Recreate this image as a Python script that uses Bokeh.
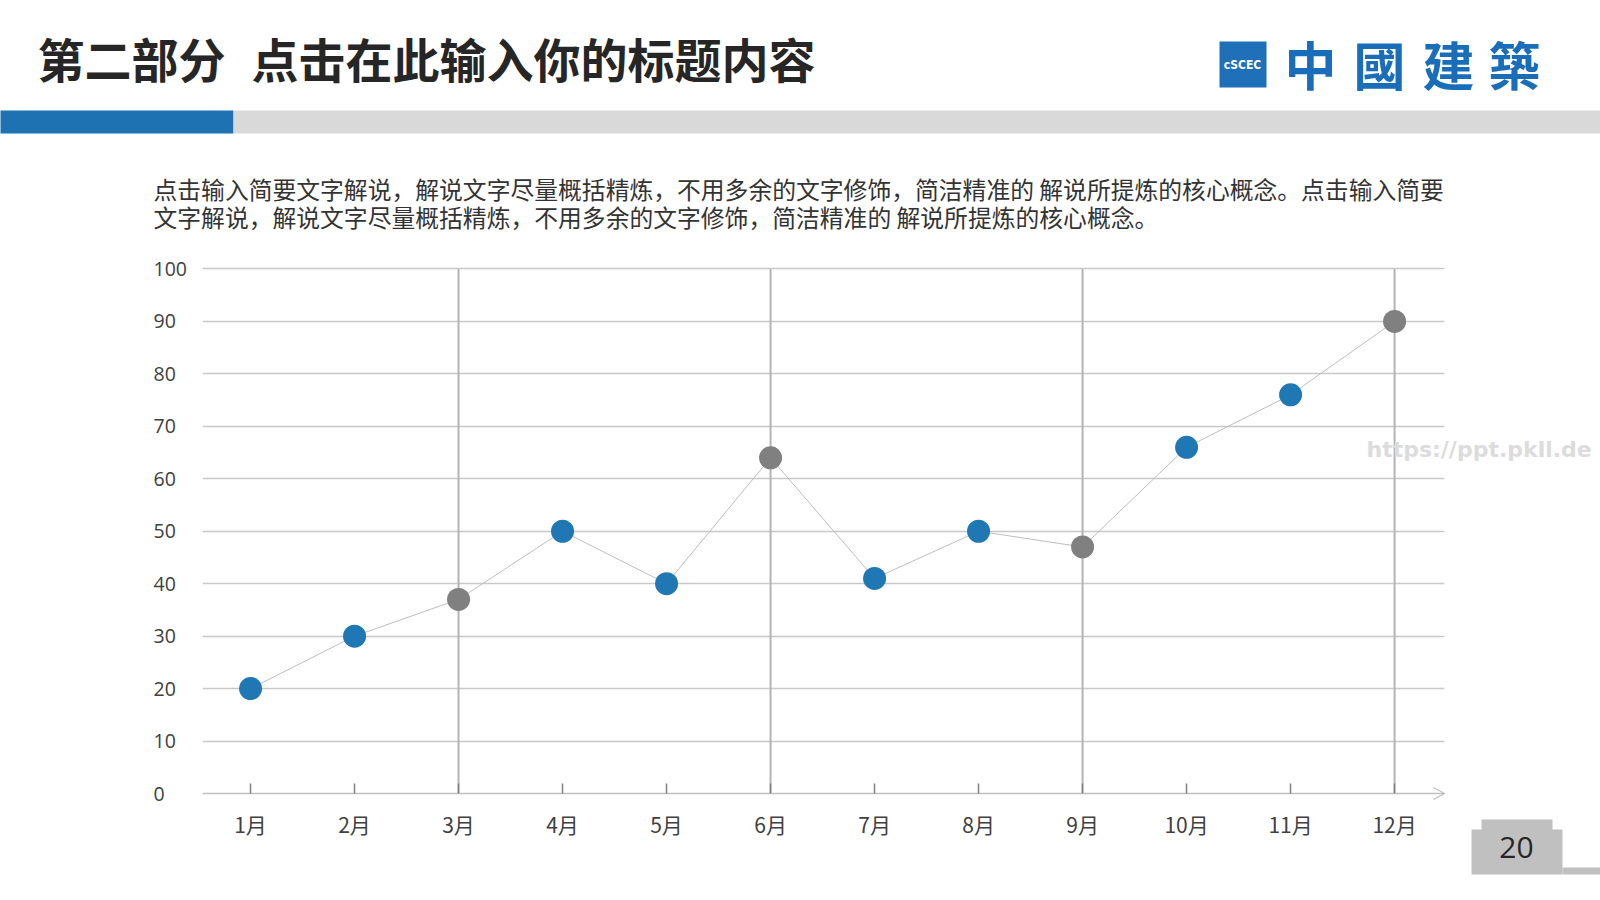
from bokeh.plotting import figure
from bokeh.models import FixedTicker, ColumnDataSource, Range1d
from bokeh.core.properties import value
from bokeh.embed import file_html
from bokeh.resources import INLINE

# ---- data ----
months = ["1月", "2月", "3月", "4月", "5月", "6月", "7月", "8月", "9月", "10月", "11月", "12月"]
month_idx = [1, 2, 3, 4, 5, 6, 7, 8, 9, 10, 11, 12]
values = [20, 30, 37, 50, 40, 64, 41, 50, 47, 66, 76, 90]
highlight_months = [3, 6, 9, 12]
y_ticks = [0, 10, 20, 30, 40, 50, 60, 70, 80, 90, 100]
title_part = "第二部分"
title_text = "点击在此输入你的标题内容"
para_lines = [
    "点击输入简要文字解说，解说文字尽量概括精炼，不用多余的文字修饰，简洁精准的 解说所提炼的核心概念。点击输入简要",
    "文字解说，解说文字尽量概括精炼，不用多余的文字修饰，简洁精准的 解说所提炼的核心概念。",
]
logo_chars = ["中", "國", "建", "築"]
page_number = "20"
watermark = "https://ppt.pkll.de"

# ---- layout ----
W, H = 1600, 900
FL, FR, FT, FB = 202, 1444, 258, 793
YMIN, YMAX = 0, 102
BLUE = "#1f72b2"
CJK = "Noto Sans CJK SC"

p = figure(width=W, height=H, output_backend="svg", toolbar_location=None,
           x_range=Range1d(0.538, 12.48), y_range=Range1d(YMIN, YMAX),
           min_border_left=FL, min_border_right=W - FR,
           min_border_top=FT, min_border_bottom=H - FB,
           y_axis_location=None, background_fill_color="white",
           border_fill_color="white")
p.outline_line_color = None
# pixel ranges: data value == canvas pixel (y measured from the top)
p.extra_x_ranges = {"px": Range1d(FL, FR)}
p.extra_y_ranges = {"px": Range1d(FB, FT)}

# horizontal grid
p.ygrid.ticker = FixedTicker(ticks=y_ticks)
p.ygrid.grid_line_color = "#c8c8c8"
p.ygrid.grid_line_width = 1.3
p.xgrid.grid_line_color = None

# vertical quarter lines from 0 to 100
p.segment(x0=highlight_months, y0=[y_ticks[0]] * len(highlight_months),
          x1=highlight_months, y1=[y_ticks[-1]] * len(highlight_months),
          line_color="#b4b4b4", line_width=2)

# x axis at the bottom of the frame (y = 0)
ax = p.xaxis[0]
ax.ticker = FixedTicker(ticks=month_idx)
ax.major_label_overrides = {i: m for i, m in zip(month_idx, months)}
ax.axis_line_color = "#c0c0c0"
ax.axis_line_width = 1.3
ax.major_tick_in = 10
ax.major_tick_out = 0
ax.major_tick_line_color = "#808080"
ax.major_tick_line_width = 1.5
ax.minor_tick_line_color = None
ax.major_label_standoff = 15
ax.major_label_text_font = CJK
ax.major_label_text_font_size = "21px"
ax.major_label_text_color = "#404040"

# open arrow head at the end of the x axis
p.multi_line(xs=[[FR - 11, FR, FR - 11]], ys=[[FB - 6, FB, FB + 6]],
             line_color="#bfbfbf", line_width=1.2,
             x_range_name="px", y_range_name="px", level="overlay")

# y tick labels (left aligned, as in the slide)
p.text(x=[153] * len(y_ticks), y=y_ticks, text=[str(v) for v in y_ticks],
       x_range_name="px", text_align="left", text_baseline="middle",
       text_font=value("Open Sans"), text_font_size="19.5px", text_color="#404040",
       level="overlay")

# data
colors = ["#808080" if m in highlight_months else "#1f77b4" for m in month_idx]
src = ColumnDataSource(dict(x=month_idx, y=values, c=colors))
p.line("x", "y", source=src, line_color="#bdbdbd", line_width=1)
p.scatter("x", "y", source=src, size=23, fill_color="c", line_color=None)

# ---- slide decorations (pixel coordinates) ----
def box(l, r, t, b, color):
    p.quad(left=[l], right=[r], top=[t], bottom=[b], fill_color=color, line_color=None,
           x_range_name="px", y_range_name="px", level="overlay")

def label(x, y, text, font=CJK, size="20px", color="#262626", align="left", style="normal"):
    p.text(x=[x], y=[y], text=[text], x_range_name="px", y_range_name="px",
           text_font=value(font), text_font_size=size, text_color=color,
           text_align=align, text_baseline="middle", text_font_style=style, level="overlay")

box(0, 233, 110, 133, BLUE)
box(233, W, 110, 133, "#d9d9d9")
box(1219, 1266, 41, 87, "#1f70b8")

label(37, 57, title_part, size="47px", style="bold")
label(251, 57, title_text, size="47px", style="bold")

label(1242, 64, "cSCEC", font="DejaVu Sans Condensed", size="12px", color="white",
      align="center", style="bold")
for cx, ch in zip([1310, 1379, 1448, 1514], logo_chars):
    label(cx, 63, ch, font="Noto Sans CJK TC", size="52px", color="#1a6db8",
          align="center", style="bold")

for i, line in enumerate(para_lines):
    label(153, 188 + 27.5 * i, line, size="23.8px", color="#333333")

label(1366, 449, watermark, font="DejaVu Sans", size="22px", color="#dcdcdc", style="bold")

# page number tab with rounded top corners
box(1471, 1562, 829, 874, "#c0c0c0")
box(1481, 1552, 819, 830, "#c0c0c0")
p.scatter(x=[1481, 1552], y=[829, 829], size=20, fill_color="#c0c0c0", line_color=None,
          x_range_name="px", y_range_name="px", level="overlay")
box(1562, W, 867, 874, "#c0c0c0")
label(1516, 847, page_number, font="Open Sans", size="30px", align="center")

open("out.html", "w").write(file_html(p, INLINE))
